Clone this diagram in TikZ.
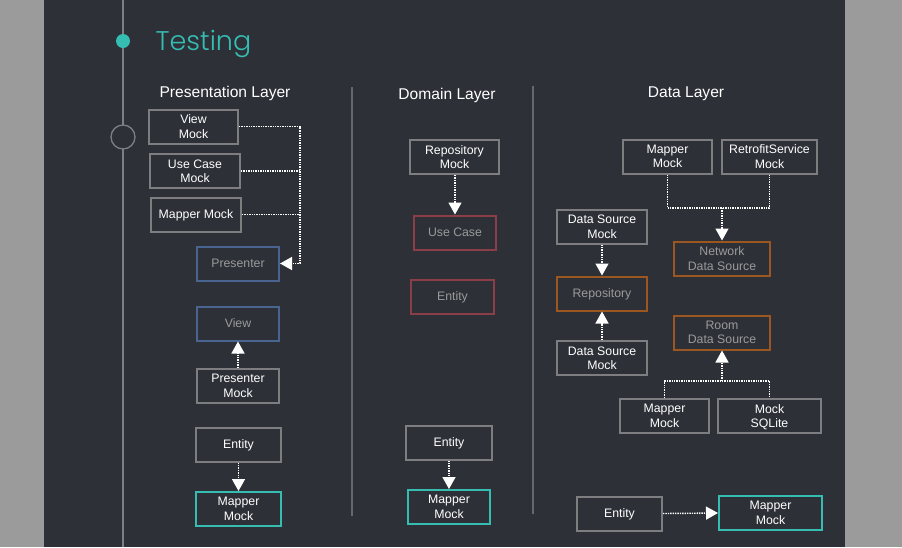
\documentclass[tikz,border=0pt]{standalone}
\usepackage{fontspec}
\setmainfont{Liberation Sans}
\newfontfamily\titlefont{Poppins Light}
\usetikzlibrary{arrows.meta,positioning}
\usepackage{xcolor}

\definecolor{bgdark}{HTML}{2D3037}
\definecolor{outergray}{HTML}{9B9B9B}
\definecolor{boxgray}{HTML}{7E7E80}
\definecolor{layerblue}{HTML}{4A6491}
\definecolor{layerred}{HTML}{8C3E48}
\definecolor{layerorange}{HTML}{9C5620}
\definecolor{mockteal}{HTML}{36BDB2}
\definecolor{softtext}{HTML}{9A9A9A}
\definecolor{sepgray}{HTML}{66686E}
\definecolor{linegray}{HTML}{7D7F86}

\begin{document}
\begin{tikzpicture}[x=1pt,y=-1pt,
            box/.style={draw=boxgray, line width=2pt, fill=bgdark, align=center, text=white,
                        font=\fontsize{12.3}{14.5}\selectfont, inner sep=0pt, text depth=0pt,
                        minimum height=34pt},
            real/.style={box, text=softtext},
            presbox/.style={real, draw=layerblue},
            domainbox/.style={real, draw=layerred},
            databox/.style={real, draw=layerorange},
            target/.style={box, draw=mockteal},
            header/.style={text=white, font=\fontsize{15.6}{18}\selectfont},
            link/.style={white, line width=1.4pt, densely dotted},
            to/.style={link, -{Triangle[width=13pt,length=12pt]}}
  ]

  % page and background
  \fill[outergray] (0,0) rectangle (902,547);
  \fill[bgdark] (44,0) rectangle (845,547);
  \useasboundingbox (0,0) rectangle (902,547);

  % timeline
  \draw[linegray, line width=1.6pt] (123,0) -- (123,547);
  \node[circle, fill=mockteal, minimum size=14pt, inner sep=0pt] (dot) at (123,41) {};
  \node[circle, draw=linegray, line width=1.3pt, fill=bgdark, minimum size=24pt, inner sep=0pt] (marker) at (123,137) {};
  \node[anchor=west, text=mockteal, font=\titlefont\fontsize{27}{30}\selectfont] (title) at (152,44) {Testing};

  % layer separators
  \draw[sepgray, line width=2.5pt] (352,87) -- (352,516);
  \draw[sepgray, line width=2.5pt] (533,86) -- (533,514);

  \node[header] (presentationh) at (225,93) {Presentation Layer};
  \node[header] (domainh) at (447,95) {Domain Layer};
  \node[header] (datah) at (686,94) {Data Layer};

  % presentation layer
  \node[box, minimum width=89pt] (viewmock) at (193.5,126.5) {View\\Mock};
  \node[box, minimum width=90pt] (usecasemock) at (195,171) {Use Case\\Mock};
  \node[box, minimum width=90pt] (mappermockp) at (196,214.5) {Mapper Mock};
  \node[presbox, minimum width=82pt] (presenter) at (238,263.5) {Presenter};
  \node[presbox, minimum width=82pt] (view) at (238,323.5) {View};
  \node[box, minimum width=82pt] (presentermock) at (238,386) {Presenter\\Mock};
  \node[box, minimum width=85pt] (entityp) at (238.5,444.5) {Entity};
  \node[target, minimum width=85pt] (mapperp) at (238.5,509) {Mapper\\Mock};

  \coordinate (pbus) at (300,127);
  \draw[to] (viewmock.east) -| (pbus |- presenter.east) -- (presenter.east);
  \draw[link] (usecasemock.east) -- (usecasemock.east -| pbus);
  \draw[link] (mappermockp.east) -- (mappermockp.east -| pbus);
  \draw[to] (presentermock.north) -- (view.south);
  \draw[to] (entityp.south) -- (mapperp.north);

  % domain layer
  \node[box, minimum width=89pt] (repomock) at (454.5,157) {Repository\\Mock};
  \node[domainbox, minimum width=82pt] (usecase) at (455,232.5) {Use Case};
  \node[domainbox, minimum width=83pt] (entity) at (452.5,296.5) {Entity};
  \node[box, minimum width=86pt] (entityd) at (449,442.5) {Entity};
  \node[target, minimum width=82pt] (mapperd) at (449,507) {Mapper\\Mock};

  \draw[to] (repomock.south -| usecase) -- (usecase.north);
  \draw[to] (entityd.south) -- (mapperd.north);

  % data layer
  \node[box, minimum width=89pt] (mappermock) at (667.5,156.5) {Mapper\\Mock};
  \node[box, minimum width=95pt] (retrofit) at (769.5,156.5) {RetrofitService\\Mock};
  \node[databox, minimum width=96pt] (network) at (722,258.5) {Network\\Data Source};
  \node[box, minimum width=90pt] (sourcemocka) at (602,226.5) {Data Source\\Mock};
  \node[databox, minimum width=90pt] (repository) at (602,293.5) {Repository};
  \node[box, minimum width=90pt] (sourcemockb) at (602,358) {Data Source\\Mock};
  \node[databox, minimum width=96pt] (room) at (722,332.5) {Room\\Data Source};
  \node[box, minimum width=89pt] (mappermockr) at (664.5,416) {Mapper\\Mock};
  \node[box, minimum width=103pt] (sqlite) at (769.5,416) {Mock\\SQLite};
  \node[box, minimum width=85pt] (entitydata) at (619.5,513.5) {Entity};
  \node[target, minimum width=103pt] (mapperdata) at (770.5,513) {Mapper\\Mock};

  \coordinate (netbus) at (722,208);
  \coordinate (roombus) at (722,381);
  \draw[link] (mappermock.south) |- (netbus) -| (retrofit.south);
  \draw[to] (netbus) -- (network.north);
  \draw[to] (sourcemocka.south) -- (repository.north);
  \draw[to] (sourcemockb.north) -- (repository.south);
  \draw[link] (mappermockr.north) |- (roombus) -| (sqlite.north);
  \draw[to] (roombus) -- (room.south);
  \draw[to] (entitydata.east) -- (mapperdata.west);

\end{tikzpicture}
\end{document}
